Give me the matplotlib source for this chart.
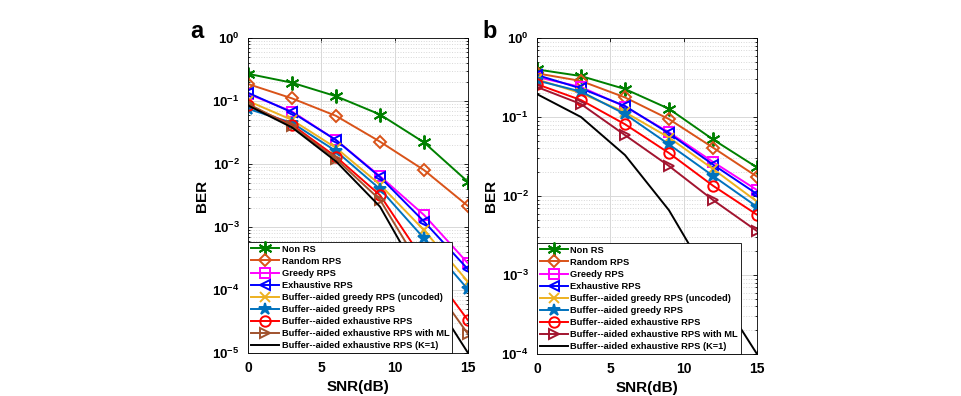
import numpy as np
import matplotlib
matplotlib.use('Agg')
import matplotlib.pyplot as plt

plt.rcParams['font.family'] = ['Liberation Sans', 'DejaVu Sans']
plt.rcParams['font.weight'] = 'bold'
plt.rcParams['mathtext.fontset'] = 'custom'
plt.rcParams['mathtext.rm'] = 'Liberation Sans:bold'
plt.rcParams['mathtext.bf'] = 'Liberation Sans:bold'
plt.rcParams['mathtext.default'] = 'bf'

snr = [0, 3, 6, 9, 12, 15]

labels = ['Non RS', 'Random RPS', 'Greedy RPS', 'Exhaustive RPS',
          'Buffer--aided greedy RPS (uncoded)', 'Buffer--aided greedy RPS',
          'Buffer--aided exhaustive RPS', 'Buffer--aided exhaustive RPS with ML',
          'Buffer--aided exhaustive RPS (K=1)']

# panel a
a_nonrs = [0.27, 0.195, 0.119, 0.061, 0.022, 0.0052]
a_random = [0.186, 0.11, 0.058, 0.0226, 0.008, 0.00215]
a_greedy = [0.13, 0.068, 0.024, 0.0064, 0.00155, 0.000265]
a_exh = [0.135, 0.066, 0.024, 0.0062, 0.00122, 0.000213]
a_bg_unc = [0.1, 0.05, 0.018, 0.0047, 0.00089, 0.000135]
a_bg = [0.075, 0.045, 0.016, 0.004, 0.00066, 0.000102]
a_be = [0.085, 0.042, 0.013, 0.0032, 0.00029, 3.3e-5]
a_be_ml = [0.09, 0.04, 0.012, 0.0027, 0.00019, 2.0e-5]
a_k1 = [0.085, 0.038, 0.011, 0.0021, 0.000125, 1.0e-5]

# panel b
b_nonrs = [0.40, 0.33, 0.226, 0.127, 0.052, 0.023]
b_random = [0.357, 0.286, 0.177, 0.094, 0.041, 0.0176]
b_greedy = [0.32, 0.24, 0.135, 0.064, 0.027, 0.0119]
b_exh = [0.34, 0.23, 0.138, 0.062, 0.025, 0.0106]
b_bg_unc = [0.30, 0.20, 0.115, 0.055, 0.022, 0.0085]
b_bg = [0.29, 0.21, 0.109, 0.045, 0.018, 0.0073]
b_be = [0.26, 0.164, 0.081, 0.035, 0.0135, 0.0058]
b_be_ml = [0.24, 0.146, 0.059, 0.024, 0.0089, 0.0036]
b_k1 = [0.195, 0.10, 0.033, 0.0066, 0.00075, 0.0001]

colors_a = ['#008000', '#D95319', '#FF00FF', '#0000FF', '#EDB120',
            '#0072BD', '#FF0000', '#A0522D', '#000000']
colors_b = colors_a[:7] + ['#A2142F', '#000000']
asterisk = (6, 2, 0)
markers = [asterisk, 'D', 's', '<', 'x', '*', 'o', '>', None]
msizes = [10, 6.5, 6.5, 7.5, 7.5, 9, 7.5, 7.5, 0]
filled = [False, False, False, False, False, True, False, False, False]

fig = plt.figure(figsize=(9.62, 3.96), dpi=100)
ax1 = fig.add_axes([0.2578, 0.1086, 0.2287, 0.7955])
ax2 = fig.add_axes([0.5582, 0.106, 0.2287, 0.798])

panels = [
    (ax1, [a_nonrs, a_random, a_greedy, a_exh, a_bg_unc, a_bg, a_be, a_be_ml, a_k1],
     colors_a, (1e-5, 1)),
    (ax2, [b_nonrs, b_random, b_greedy, b_exh, b_bg_unc, b_bg, b_be, b_be_ml, b_k1],
     colors_b, (1e-4, 1)),
]

for ax, series, cols, ylim in panels:
    for y, c, m, ms, f, lab in zip(series, cols, markers, msizes, filled, labels):
        ax.semilogy(snr, y, color=c, marker=m, markersize=ms,
                    mfc=c if f else 'none', mew=1.4, lw=1.4, label=lab)
    ax.set_xlim(0, 15)
    ax.set_ylim(*ylim)
    ax.set_xticks([0, 5, 10, 15])
    ax.grid(True, which='major', color='#d8d8d8', lw=0.7)
    ax.grid(True, which='minor', axis='y', color='#d8d8d8', ls=':', lw=0.7)
    ax.tick_params(which='both', direction='in', top=True, right=True, width=0.6)
    ax.tick_params(which='major', length=3)
    ax.tick_params(axis='x', which='major', pad=6, labelsize=10)
    ax.tick_params(axis='y', which='major', pad=6, labelsize=9.5)
    ax.tick_params(which='minor', length=1.5)
    for s in ax.spines.values():
        s.set_linewidth(0.6)
    ax.set_xlabel('SNR(dB)', fontsize=11, fontweight='bold')
    ax.set_ylabel('BER', fontsize=11, fontweight='bold')
    ax.xaxis.set_label_coords(0.5, -0.085)
    ax.yaxis.set_label_coords(-0.178, 0.5)
    leg = ax.legend(loc='lower left', borderaxespad=0,
                    prop={'weight': 'bold', 'size': 6.7}, fancybox=False,
                    edgecolor='black', framealpha=1, labelspacing=0.33,
                    handlelength=3.0, handletextpad=0.3, borderpad=0.3)
    leg.get_frame().set_linewidth(0.6)

fig.text(0.205, 0.905, 'a', fontsize=17, fontweight='bold', ha='center')
fig.text(0.509, 0.905, 'b', fontsize=17, fontweight='bold', ha='center')

fig.savefig('out.png', dpi=100)
